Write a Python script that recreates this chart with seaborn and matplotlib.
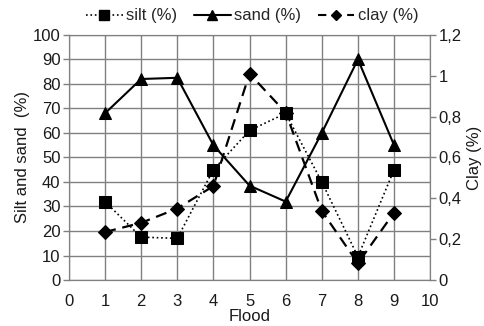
import numpy as np
import pandas as pd

import matplotlib
matplotlib.use('Agg')
import matplotlib.pyplot as plt
import matplotlib.lines as mlines
from matplotlib.ticker import FuncFormatter, MultipleLocator

import seaborn as sns

flood = [1, 2, 3, 4, 5, 6, 7, 8, 9]
silt = [32, 17.5, 17, 45, 61, 68, 40, 9.5, 45]
sand = [68, 82, 82.5, 55, 38.5, 32, 60, 90, 55]
clay = [0.235, 0.28, 0.35, 0.46, 1.01, 0.82, 0.338, 0.082, 0.33]


def comma_fmt(v, pos):
    s = "%g" % round(v, 2)
    return s.replace(".", ",")


def main():
    sns.set_style('white')
    plt.rcParams['font.family'] = ['Liberation Sans', 'DejaVu Sans']
    plt.rcParams['font.size'] = 12

    df = pd.DataFrame({"flood": flood, "silt": silt, "sand": sand, "clay": clay})

    fig = plt.figure(figsize = (4.85, 3.26), dpi = 100)
    ax = fig.add_axes([0.142, 0.141, 0.745, 0.752])
    ax2 = ax.twinx()

    sns.lineplot(data = df, x = "flood", y = "silt", ax = ax, color = "black", linestyle = ":",
                 linewidth = 1.2, marker = "s", markersize = 9, markeredgecolor = "black")
    sns.lineplot(data = df, x = "flood", y = "sand", ax = ax, color = "black", linestyle = "-",
                 linewidth = 1.5, marker = "^", markersize = 9, markeredgecolor = "black")
    sns.lineplot(data = df, x = "flood", y = "clay", ax = ax2, color = "black", linestyle = (0, (5, 3)),
                 linewidth = 1.6, marker = "D", markersize = 7, markeredgecolor = "black")

    ax.set_xlim(0, 10)
    ax.set_ylim(0, 100)
    ax2.set_ylim(0, 1.2)
    ax.xaxis.set_major_locator(MultipleLocator(1))
    ax.yaxis.set_major_locator(MultipleLocator(10))
    ax2.yaxis.set_major_locator(MultipleLocator(0.2))
    ax2.yaxis.set_major_formatter(FuncFormatter(comma_fmt))

    ax.grid(True, color = "#808080", linewidth = 1.0)
    ax.set_axisbelow(True)
    for a in (ax, ax2):
        for sp in a.spines.values():
            sp.set_color("#808080")
        a.tick_params(colors = "#808080", labelcolor = "#1a1a1a", length = 4, width = 1, pad = 2)
    ax.tick_params(axis = "x", pad = 6)

    ax.set_xlabel("Flood", labelpad = 0, color = "#1a1a1a")
    ax.set_ylabel("Silt and sand  (%)", labelpad = 2, color = "#1a1a1a")
    ax2.set_ylabel("Clay (%)", labelpad = 4, color = "#1a1a1a")

    h1 = mlines.Line2D([], [], color = "black", linestyle = ":", linewidth = 1.2, marker = "s", markersize = 7, label = "silt (%)")
    h2 = mlines.Line2D([], [], color = "black", linestyle = "-", linewidth = 1.5, marker = "^", markersize = 7, label = "sand (%)")
    h3 = mlines.Line2D([], [], color = "black", linestyle = (0, (4, 3)), linewidth = 1.5, marker = "D", markersize = 5, label = "clay (%)")
    fig.legend(handles = [h1, h2, h3], loc = "upper center", bbox_to_anchor = (0.52, 1.02), ncol = 3,
               frameon = False, handlelength = 2.2, handletextpad = 0.2, columnspacing = 1.0)

    plt.savefig("out.png", dpi = 100)
    plt.close()


if __name__ == '__main__':
    main()
